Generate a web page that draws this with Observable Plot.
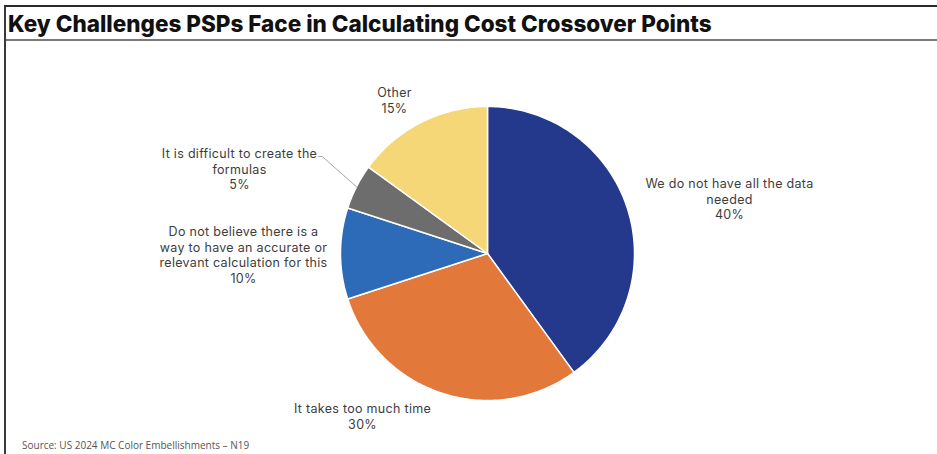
<!DOCTYPE html>
<html><head><meta charset="utf-8">
<script src="https://cdn.jsdelivr.net/npm/d3@7"></script>
<script src="https://cdn.jsdelivr.net/npm/@observablehq/plot@0.6"></script>
<style>
html,body{margin:0;padding:0;background:#fff;}
#frame{position:absolute;left:4px;top:5px;width:933px;height:449px;border-left:2px solid #3a3a3a;border-top:2px solid #2a2a2a;box-sizing:border-box;overflow:hidden;}
#title{height:32px;line-height:33px;border-bottom:2px solid #7a7a7a;font-family:Inter,"Liberation Sans",sans-serif;font-weight:800;font-size:22.5px;color:#111;padding-left:2px;white-space:nowrap;}
#chart svg{display:block;}
#chart svg text{letter-spacing:0.3px;}
#caption{height:18px;line-height:18px;font-family:"Open Sans",sans-serif;font-size:10px;color:#555;padding-left:16px;white-space:nowrap;}
</style>
</head><body>
<div id="frame">
  <div id="title">Key Challenges PSPs Face in Calculating Cost Crossover Points</div>
  <div id="chart"></div>
  <div id="caption">Source: US 2024 MC Color Embellishments – N19</div>
</div>
<script>
// ---- data ----
const categories = [
  "We do not have all the data needed",
  "It takes too much time",
  "Do not believe there is a way to have an accurate or relevant calculation for this",
  "It is difficult to create the formulas",
  "Other"
];
const values = [40, 30, 10, 5, 15];
const labelText = [
  "We do not have all the data\nneeded",
  "It takes too much time",
  "Do not believe there is a\nway to have an accurate or\nrelevant calculation for this",
  "It is difficult to create the\nformulas",
  "Other"
];
const colors = ["#24398c", "#e2783a", "#2d6bb8", "#6d6d6d", "#f5d778"];

// ---- layout (pixels, relative to pie centre, y down) ----
const R = 147, W = 931, H = 395, cx = 481, cy = 212;
const labelOffset = [[242, -55], [-125, 162.5], [-244, 1], [-248, -85], [-93, -153.5]];
const leaderOffset = [[-165.3, -97], [-169, -97]]; // elbow, end (for slice index 3)
const leaderSlice = 3;

// ---- build geometry from data ----
const arcs = d3.pie().sort(null).value(d => d)(values);
const slicePts = [];
arcs.forEach((a, i) => {
  const cat = categories[i];
  slicePts.push({cat, x: 0, y: 0});
  const n = Math.max(2, Math.ceil((a.endAngle - a.startAngle) / (Math.PI / 180)));
  for (let k = 0; k <= n; k++) {
    const t = a.startAngle + (a.endAngle - a.startAngle) * k / n;
    slicePts.push({cat, x: Math.sin(t), y: Math.cos(t)});
  }
});
const labels = categories.map((c, i) => ({
  text: `${labelText[i]}\n${values[i]}%`,
  x: labelOffset[i][0] / R,
  y: -labelOffset[i][1] / R
}));
const la = arcs[leaderSlice];
const mid = (la.startAngle + la.endAngle) / 2;
const leader = [
  {x: Math.sin(mid), y: Math.cos(mid)},
  ...leaderOffset.map(([dx, dy]) => ({x: dx / R, y: -dy / R}))
];

const chart = Plot.plot({
  width: W, height: H, margin: 0,
  style: {background: "transparent", overflow: "visible"},
  x: {domain: [-cx / R, (W - cx) / R], axis: null},
  y: {domain: [-(H - cy) / R, cy / R], axis: null},
  color: {domain: categories, range: colors},
  marks: [
    Plot.line(slicePts, {x: "x", y: "y", z: "cat", fill: "cat", stroke: "white", strokeWidth: 1.5, strokeLinejoin: "round", curve: "linear-closed"}),
    Plot.line(leader, {x: "x", y: "y", stroke: "#a8a8a8", strokeWidth: 1}),
    Plot.text(labels, {x: "x", y: "y", text: "text", fontSize: 12.5, lineHeight: 1.25, fill: "#3d3d3d", fontFamily: "Inter", textAnchor: "middle"})
  ]
});
document.getElementById("chart").appendChild(chart);
</script>
</body></html>
